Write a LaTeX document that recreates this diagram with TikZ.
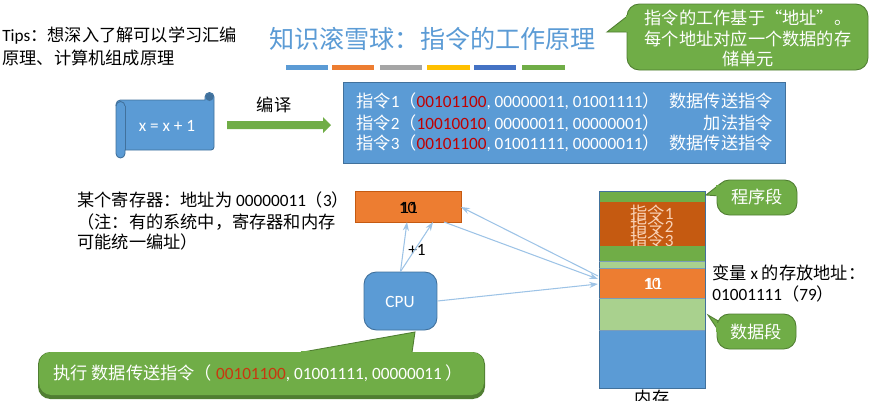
\documentclass[tikz,border=0pt]{standalone}
\usepackage{fontspec}
\setmainfont{Carlito}
\newfontfamily\cjk{Noto Sans CJK SC}
\usetikzlibrary{arrows.meta}
\definecolor{azul}{HTML}{5B9BD5}
\definecolor{azulosc}{HTML}{41719C}
\definecolor{naranja}{HTML}{ED7D31}
\definecolor{naranjaosc}{HTML}{C55A11}
\definecolor{verde}{HTML}{70AD47}
\definecolor{verdeosc}{HTML}{507E32}
\definecolor{verdecla}{HTML}{A9D18E}
\definecolor{gris}{HTML}{A5A5A5}
\definecolor{amarillo}{HTML}{FFC000}
\definecolor{indigo}{HTML}{4472C4}
\definecolor{rojobit}{HTML}{C00000}
\definecolor{rojoexe}{HTML}{C8370F}
\definecolor{flecha}{HTML}{9DC3E6}
\newcommand{\zh}[1]{{\cjk #1}}
\tikzset{
  texto/.style    = {font=\fontsize{9.8pt}{12pt}\selectfont, inner sep=0pt},
  textoizq/.style = {texto, anchor=west},
  blanco/.style   = {texto, white},
  cuadro/.style   = {draw=azulosc, fill=azul, line width=0.5pt},
  globo/.style    = {fill=verde, draw=verdeosc, line width=0.5pt, rounded corners=7pt},
  cola/.style     = {fill=verde, draw=verdeosc, line width=0.5pt},
  enlace/.style   = {-{Stealth[length=5pt,width=3.5pt]}, flecha, line width=0.6pt}
}

\begin{document}
\begin{tikzpicture}[x=0.02cm, y=-0.02cm]
  \useasboundingbox (0,0) rectangle (872,400);

  % titulo y barras
  \node[texto, anchor=west] (tip1) at (2,36) {Tips\zh{：想深入了解可以学习汇编}};
  \node[texto, anchor=west] (tip2) at (2,58) {\zh{原理、计算机组成原理}};
  \node[texto, font=\fontsize{14.3pt}{16pt}\selectfont, azul, anchor=west] (titulo) at (269,39) {\zh{知识滚雪球：指令的工作原理}};
  \foreach \xa/\xb/\col in {286/328/azul, 332/374/naranja, 380/422/gris, 427/470/amarillo, 474/516/indigo, 522/565/verde}{
    \fill[\col] (\xa,64.5) rectangle (\xb,70);
  }

  % globo superior
  \draw[cola] (607,32) -- (630,14) -- (630,32) -- cycle;
  \draw[globo] (627,4) rectangle (868,70);
  \fill[verde] (626,15) rectangle (631,31.7);
  \node[blanco] (nota1) at (748,18) {\zh{指令的工作基于“地址”。}};
  \node[blanco] (nota2) at (748,39) {\zh{每个地址对应一个数据的存}};
  \node[blanco] (nota3) at (748,59) {\zh{储单元}};

  % pergamino
  \draw[cuadro] (125,100) -- (205,100) -- (205,97) arc[start angle=180, end angle=360, radius=4.5] -- (214,147) arc[start angle=0, end angle=90, radius=3] -- (125,150) -- (125,153.5) arc[start angle=0, end angle=180, radius=4.5] -- (116,104.5) arc[start angle=180, end angle=270, radius=4.5] -- cycle;
  \fill[azulosc] (209.5,97) circle[radius=4];
  \draw[azulosc, line width=0.5pt] (125,106) -- (125,150);
  \draw[azulosc, line width=0.5pt] (116,106) arc[start angle=180, end angle=360, radius=4.5];
  \node[blanco] (fuente) at (167,126) {x = x + 1};

  % flecha compilar
  \fill[verde] (227,121) -- (323,121) -- (323,117) -- (331,125) -- (323,133) -- (323,129) -- (227,129) -- cycle;
  \node[texto] (compilar) at (274,105) {\zh{编译}};

  % caja de instrucciones
  \node[cuadro, minimum width=8.84cm, minimum height=1.62cm, inner sep=0pt] (instr) at (564,122.5) {};
  \node[blanco, anchor=west] (ins1) at (356,101) {\zh{指令}1\zh{（}\textcolor{rojobit}{00101100}, 00000011, 01001111\zh{）}};
  \node[blanco, anchor=west] (ins2) at (356,123) {\zh{指令}2\zh{（}\textcolor{rojobit}{10010010}, 00000011, 00000001\zh{）}};
  \node[blanco, anchor=west] (ins3) at (356,143) {\zh{指令}3\zh{（}\textcolor{rojobit}{00101100}, 01001111, 00000011\zh{）}};
  \node[blanco, anchor=east] (tipo1) at (773,101) {\zh{数据传送指令}};
  \node[blanco, anchor=east] (tipo2) at (773,123) {\zh{加法指令}};
  \node[blanco, anchor=east] (tipo3) at (773,143) {\zh{数据传送指令}};

  % registro
  \node[textoizq] (reg1) at (77,200) {\zh{某个寄存器：地址为 }00000011\zh{（}3\zh{）}};
  \node[textoizq] (reg2) at (77,222) {\zh{（注：有的系统中，寄存器和内存}};
  \node[textoizq] (reg3) at (77,242) {\zh{可能统一编址）}};
  \node[draw=naranjaosc, fill=naranja, line width=0.5pt, minimum width=2.12cm, minimum height=0.62cm, inner sep=0pt] (reg) at (408,206.5) {};
  \node[texto] (regA) at (407.5,208) {10};
  \node[texto] (regB) at (409,208) {11};

  % cpu
  \node[cuadro, rounded corners=7pt, minimum width=1.46cm, minimum height=1.16cm, inner sep=0pt] (cpu) at (400.5,301) {};
  \node[blanco] (cpuT) at (400,302) {CPU};
  \node[texto] (mas) at (417,250) {+1};

  % memoria
  \fill[azul] (599,330) rectangle (705,388);
  \fill[verdecla] (599,298) rectangle (705,330);
  \fill[verdecla] (599,261) rectangle (705,268);
  \fill[naranjaosc] (599,202) rectangle (705,246);
  \foreach \n/\y in {1/213, 2/226, 3/240}{
    \node[texto, naranja!35!white] (pasoT\n) at (652,\y) {\zh{指令}\n};
  }
  \fill[verde] (599,191) rectangle (705,202);
  \fill[verde] (599,246) rectangle (705,261);
  \fill[naranja] (599,268) rectangle (705,298);
  \draw[azulosc, line width=0.5pt] (599,191) rectangle (705,388);
  \foreach \y in {261,268,298,330}{
    \draw[azulosc!70, line width=0.4pt] (599,\y) -- (705,\y);
  }
  \node[blanco] (memA) at (652,284) {10};
  \node[blanco] (memB) at (653.5,284) {11};
  \node[texto] (mem) at (652,398) {\zh{内存}};
  \node[textoizq] (var1) at (712,273) {\zh{变量 }x\zh{ 的存放地址：}};
  \node[textoizq] (var2) at (712,294) {01001111\zh{（}79\zh{）}};

  % enlaces
  \coordinate (regS1) at (407,222);
  \coordinate (regS2) at (433,222);
  \coordinate (regS3) at (444,222);
  \coordinate (regE) at (461,207);
  \coordinate (memO1) at (598,276);
  \coordinate (memO2) at (598,279);
  \coordinate (memO3) at (598,284);
  \draw[enlace] (cpu.north) -- (regS1);
  \draw[enlace] (cpu.north) -- (regS2);
  \draw[enlace] (memO1) -- (regE);
  \draw[enlace] (regS3) -- (memO2);
  \draw[enlace] (cpu.east) -- (memO3);

  % globos de memoria
  \draw[cola] (706,195) -- (720,184) -- (720,196) -- cycle;
  \draw[globo] (717,180) rectangle (797,215);
  \fill[verde] (716,184.5) rectangle (720,195.5);
  \node[blanco] (prog) at (757,197) {\zh{程序段}};
  \draw[cola] (708,315) -- (720,322) -- (720,333) -- cycle;
  \draw[globo] (717,314) rectangle (796,349);
  \fill[verde] (716,322.5) rectangle (720,332);
  \node[blanco] (dato) at (756,332) {\zh{数据段}};

  % globo inferior
  \draw[cola] (300,352.5) -- (415,332) -- (412,352.5) -- cycle;
  \fill[verdeosc, rounded corners=7pt] (38,352) rectangle (485,399);
  \fill[verde, rounded corners=7pt] (39,352) rectangle (484,395);
  \fill[verde] (301,351) rectangle (411,354);
  \node[blanco, anchor=west] (exec) at (53,373) {\zh{执行 数据传送指令（} \textcolor{rojoexe}{00101100}, 01001111, 00000011 \zh{）}};
\end{tikzpicture}
\end{document}
